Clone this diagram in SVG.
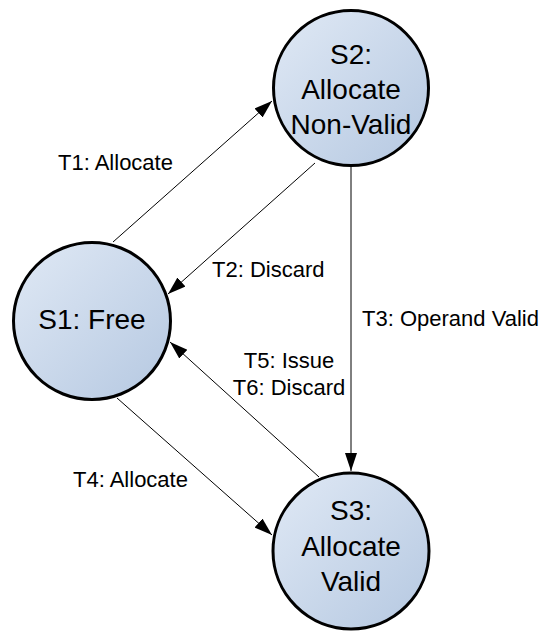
<svg xmlns="http://www.w3.org/2000/svg" width="546" height="631" viewBox="0 0 546 631">
<defs>
<linearGradient id="fill" x1="0" y1="0" x2="1" y2="1">
<stop offset="0" stop-color="#e0e9f5"/>
<stop offset="1" stop-color="#b5c8e1"/>
</linearGradient>
<marker id="arr" markerUnits="userSpaceOnUse" markerWidth="20" markerHeight="14" refX="18" refY="6" orient="auto">
<path d="M0,0 L18,6 L0,12 z" fill="#000"/>
</marker>
<style>
.node{fill:url(#fill);stroke:#000;stroke-width:3}
.nt{font-family:"Liberation Sans",Arial,sans-serif;font-size:28px;fill:#000;text-anchor:middle}
.lt{font-family:"Liberation Sans",Arial,sans-serif;font-size:22px;fill:#000}
.edge{stroke:#000;stroke-width:1;fill:none;marker-end:url(#arr)}
</style>
</defs>
<rect width="546" height="631" fill="#fff"/>
<g id="connectors">
<line class="edge" x1="113" y1="242" x2="272" y2="101"/>
<line class="edge" x1="315" y1="163" x2="168" y2="294"/>
<line class="edge" x1="351" y1="167" x2="351" y2="471"/>
<line class="edge" x1="319" y1="477" x2="170" y2="342"/>
<line class="edge" x1="117" y1="398" x2="272" y2="535"/>
<text class="lt" x="58" y="170">T1: Allocate</text>
<text class="lt" x="212" y="277">T2: Discard</text>
<text class="lt" x="362" y="326">T3: Operand Valid</text>
<text class="lt" x="289" y="368" text-anchor="middle">T5: Issue</text>
<text class="lt" x="289" y="395" text-anchor="middle">T6: Discard</text>
<text class="lt" x="73" y="487">T4: Allocate</text>
</g>
<g id="S1">
<circle class="node" cx="92" cy="321" r="78.5"/>
<text class="nt" x="92" y="329">S1: Free</text>
</g>
<g id="S2">
<circle class="node" cx="351" cy="88" r="77.5"/>
<text class="nt" x="351" y="64">S2:</text>
<text class="nt" x="351" y="98.5">Allocate</text>
<text class="nt" x="351" y="133.5">Non-Valid</text>
</g>
<g id="S3">
<circle class="node" cx="351" cy="551" r="78"/>
<text class="nt" x="351" y="520">S3:</text>
<text class="nt" x="351" y="555.5">Allocate</text>
<text class="nt" x="351" y="591">Valid</text>
</g>
</svg>
